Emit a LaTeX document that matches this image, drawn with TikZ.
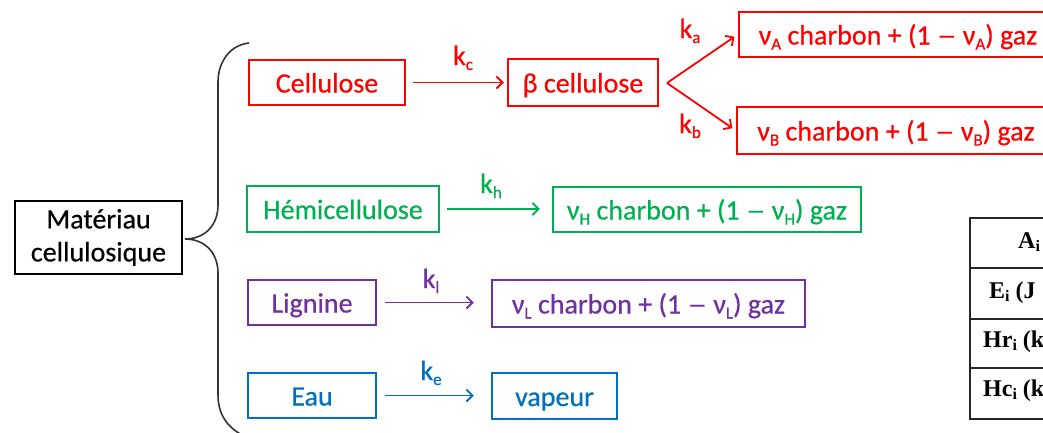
\documentclass[tikz,border=0pt]{standalone}
\usepackage{fontspec}
\setmainfont{Carlito}[FakeBold=0.5]
\newfontfamily\tabfont{Liberation Serif}
\usetikzlibrary{arrows.meta}
\definecolor{cred}{RGB}{255,0,0}
\definecolor{cgreen}{RGB}{0,176,80}
\definecolor{cpurple}{RGB}{112,48,160}
\definecolor{cblue}{RGB}{0,112,192}
\newcommand\lsb[1]{\raisebox{-5pt}{\fontsize{17}{17}\selectfont #1}}
\newcommand\tsb[1]{\raisebox{-3.5pt}{\fontsize{16}{16}\selectfont #1}}
\newcommand\mdash{\scalebox{1.4}[1]{–}}
\begin{document}
\begin{tikzpicture}[x=1pt,y=-1pt,
  box/.style={draw, line width=2.5pt, minimum height=45pt, inner sep=0pt, text height=25pt, text depth=5pt, font=\fontsize{28}{33}\selectfont},
  arr/.style={line width=1.8pt, -{Straight Barb[length=6pt,width=12pt,line width=1.8pt]}},
  klab/.style={font=\fontsize{28}{33}\selectfont, inner sep=0pt, anchor=base},
  brace/.style={line width=1.6pt, draw=black!80},
  tline/.style={line width=1.3pt, draw=black!85},
  tlab/.style={font=\tabfont\bfseries\fontsize{24}{26}\selectfont, inner sep=0pt, anchor=base west}]
\path[use as bounding box, clip] (0,0) rectangle (1043,432);

% root
\node[draw=black, line width=2pt, minimum width=167pt, minimum height=73pt, inner sep=0pt, align=center,
      font=\fontsize{28}{33}\selectfont] (mat) at (98.5,237.5) {Matériau\\cellulosique};

% brace
\draw[brace] (249,43) .. controls (230,45) and (218,62) .. (218,82)
  -- (218,205) .. controls (218,225) and (205,239) .. (185,239)
  .. controls (205,239) and (218,253) .. (218,273)
  -- (218,395) .. controls (218,415) and (228,428) .. (244,436);

% cellulose row (red)
\begin{scope}[cred]
\node[box, minimum width=156pt] (cell) at (327,82.5) {Cellulose};
\node[box, minimum width=150pt, minimum height=47pt] (beta) at (583,82.5) {β cellulose};
\node[box, minimum width=318pt] (A) at (898,34.5) {ν\lsb{A} charbon + (1 \mdash{} ν\lsb{A}) gaz};
\node[box, minimum width=318pt, minimum height=47pt] (B) at (896,130.5) {ν\lsb{B} charbon + (1 \mdash{} ν\lsb{B}) gaz};
\coordinate (fork) at (667,83);
\draw[arr, shorten <=7pt, shorten >=3pt] (cell.east) -- (beta.west);
\draw[arr, shorten >=4pt] (fork) -- (A.west);
\draw[arr, shorten >=4pt] (fork) -- (B.west);
\node[klab] (kc) at (463,65) {k\lsb{c}};
\node[klab] (ka) at (690,38) {k\lsb{a}};
\node[klab] (kb) at (690,133) {k\lsb{b}};
\end{scope}

% hemicellulose (green)
\begin{scope}[cgreen]
\node[box, minimum width=192pt, minimum height=46pt] (hemi) at (343,209) {Hémicellulose};
\node[box, minimum width=308pt] (vH) at (707,209.5) {ν\lsb{H} charbon + (1 \mdash{} ν\lsb{H}) gaz};
\draw[arr, shorten <=7pt, shorten >=12pt] (hemi.east) -- (hemi.east -| vH.west);
\node[klab] (kh) at (491,193) {k\lsb{h}};
\end{scope}

% lignine (purple)
\begin{scope}[cpurple]
\node[box, minimum width=128pt] (lig) at (312,302.5) {Lignine};
\node[box, minimum width=313pt, minimum height=47pt] (vL) at (648.5,303.5) {ν\lsb{L} charbon + (1 \mdash{} ν\lsb{L}) gaz};
\draw[arr, shorten <=8pt, shorten >=17pt] (lig.east) -- (lig.east -| vL.west);
\node[klab] (kl) at (431,288) {k\lsb{l}};
\end{scope}

% eau (blue)
\begin{scope}[cblue]
\node[box, minimum width=128pt] (eau) at (312,395.5) {Eau};
\node[box, minimum width=125pt, minimum height=46pt] (vap) at (554.5,396) {vapeur};
\draw[arr, shorten <=8pt, shorten >=17pt] (eau.east) -- (eau.east -| vap.west);
\node[klab] (ke) at (431,380) {k\lsb{e}};
\end{scope}

% table fragment
\draw[tline] (1050,218) -- (970,218) -- (970,419) -- (1050,419);
\draw[tline] (970,268) -- (1050,268);
\draw[tline] (970,319) -- (1050,319);
\draw[tline] (970,368) -- (1050,368);
\node[tlab] (tA) at (1018,248) {A\tsb{i}};
\node[tlab] (tE) at (989,298) {E\tsb{i} (J};
\node[tlab] (tHr) at (983,347) {Hr\tsb{i} (k};
\node[tlab] (tHc) at (983,396) {Hc\tsb{i} (k};
\end{tikzpicture}
\end{document}
